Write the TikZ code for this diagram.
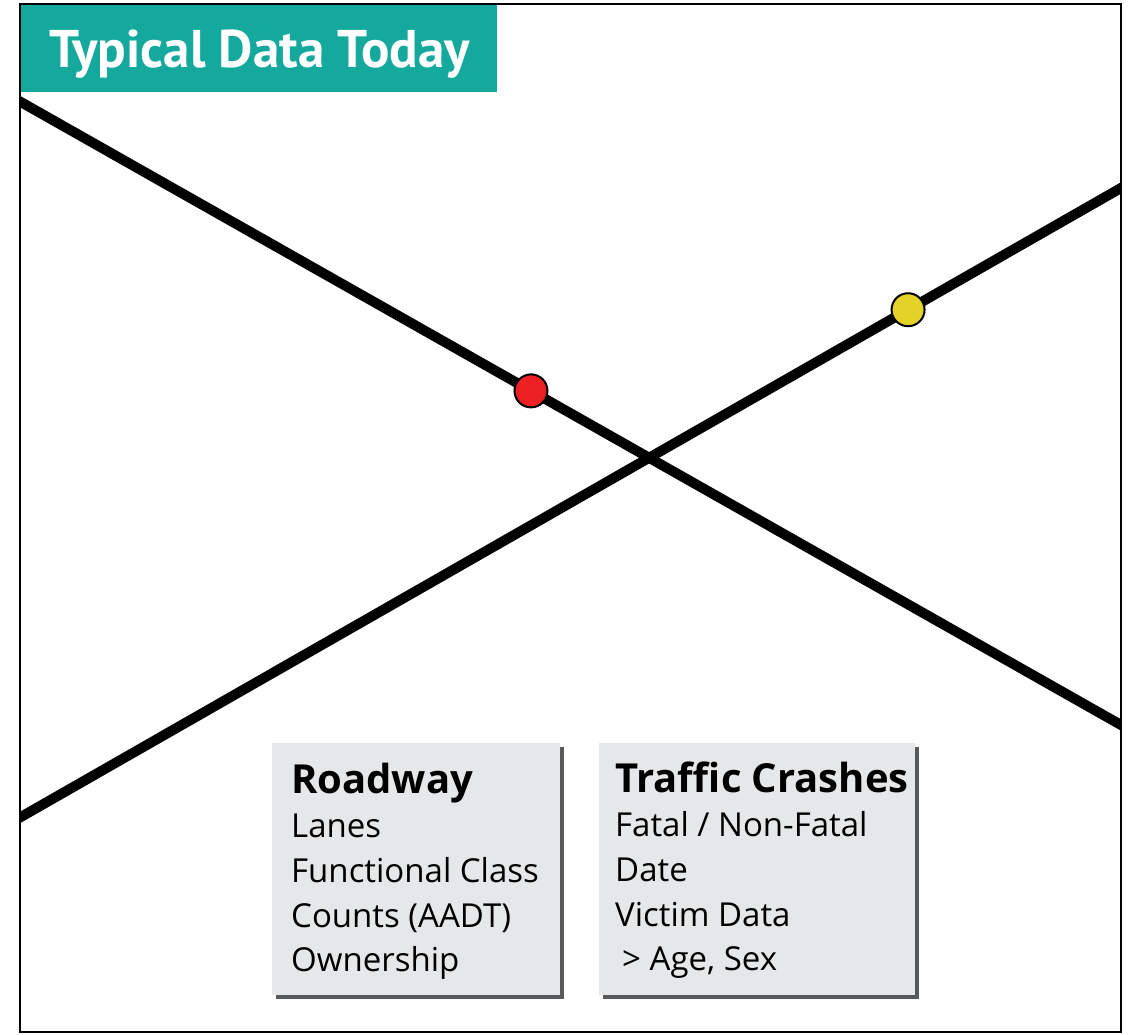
\documentclass[tikz,border=0pt]{standalone}
\usepackage{fontspec}
\setmainfont{Open Sans}
\newfontfamily\titlefont{PT Sans}
\usetikzlibrary{calc,shadows}
\definecolor{titleteal}{RGB}{21,169,157}
\definecolor{boxgray}{RGB}{230,231,232}
\definecolor{shadowgray}{RGB}{88,89,91}
\definecolor{dotred}{RGB}{237,32,36}
\definecolor{dotyellow}{RGB}{228,210,40}

\begin{document}
\begin{tikzpicture}[x=1pt, y=-1pt,
  road/.style={line width=10pt, black},
  dot/.style={circle, draw=black, line width=2pt, minimum size=33pt, inner sep=0pt},
  infobox/.style={fill=boxgray, minimum height=252pt, inner sep=0pt,
    drop shadow={shadow xshift=4pt, shadow yshift=-4pt, fill=shadowgray, opacity=1}},
  head/.style={font=\fontsize{40}{44}\selectfont\bfseries, inner sep=0pt, anchor=base west},
  item/.style={font=\fontsize{33}{44}\selectfont, inner sep=0pt, anchor=base west}
]
  \useasboundingbox (0,0) rectangle (1129,1034);

  % Title bar
  \node[fill=titleteal, anchor=north west, minimum width=477pt, minimum height=88pt,
    inner sep=0pt] (titlebar) at (20,4) {};
  \node[font=\titlefont\fontsize{53}{60}\selectfont\bfseries, text=white, inner sep=0pt,
    anchor=base west] (title) at (49,67) {Typical Data Today};

  % Roads
  \coordinate (w1) at (0,90.2);
  \coordinate (e1) at (1129,729.5);
  \coordinate (w2) at (0,828.9);
  \coordinate (e2) at (1129,183.4);
  \begin{scope}
    \clip (19,4) rectangle (1121,1031);
    \draw[road] (w1) -- (e1);
    \draw[road] (w2) -- (e2);
  \end{scope}

  % Data points
  \node[dot, fill=dotred] (crash) at ($(w1)!0.4703!(e1)$) {};
  \node[dot, fill=dotyellow] (count) at ($(w2)!0.8043!(e2)$) {};

  % Roadway box
  \node[infobox, minimum width=288pt] (roadbox) at (416,869) {};
  \node[head] (roadhead) at (291,793) {Roadway};
  \foreach \txt [count=\i] in {Lanes, Functional Class, Counts (AADT), Ownership}
    \node[item] (road\i) at (291,{793+44.7*\i}) {\txt};

  % Crash box
  \node[infobox, minimum width=316pt] (crashbox) at (757,869) {};
  \node[head] (crashhead) at (615,792) {Traffic Crashes};
  \foreach \txt [count=\i] in {Fatal / Non-Fatal, Date, Victim Data, {\hspace{7pt}> Age, Sex}}
    \node[item] (crash\i) at (615,{792+44.7*\i}) {\txt};

  % Frame
  \draw[line width=2pt] (19.5,3.5) rectangle (1120.5,1031.5);
\end{tikzpicture}
\end{document}
